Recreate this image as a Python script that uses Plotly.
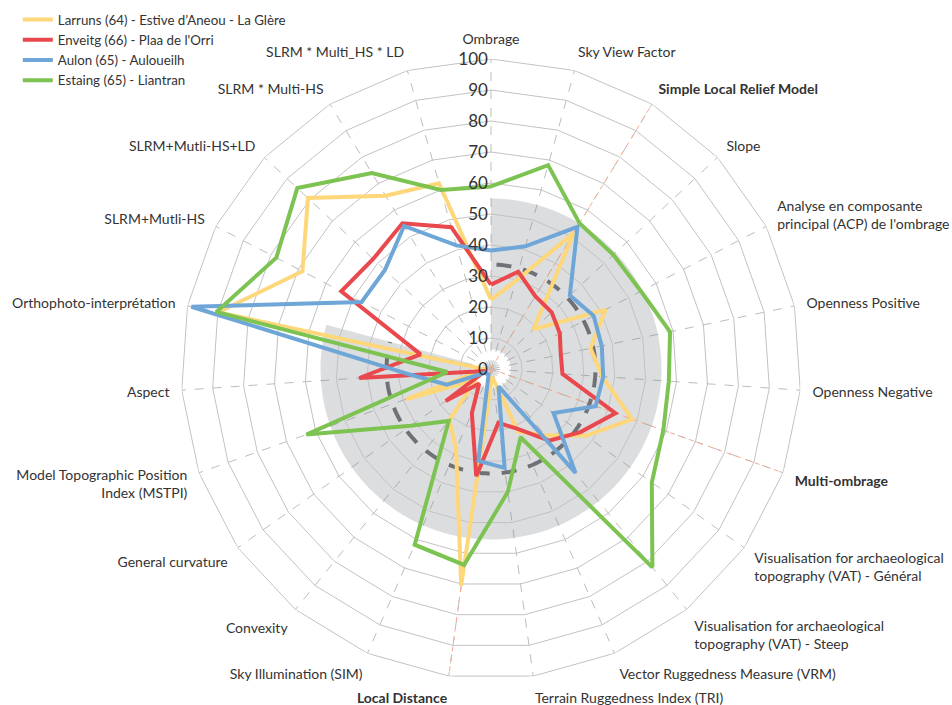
import numpy as np
import plotly.graph_objects as go

categories = [
    "Ombrage", "Sky View Factor", "<b>Simple Local Relief Model</b>", "Slope",
    "Analyse en composante<br>principal (ACP) de l'ombrage",
    "Openness Positive", "Openness Negative", "<b>Multi-ombrage</b>",
    "Visualisation for archaeological<br>topography (VAT) - Général",
    "Visualisation for archaeological<br>topography (VAT) - Steep",
    "Vector Ruggedness Measure (VRM)", "Terrain Ruggedness Index (TRI)",
    "<b>Local Distance</b>", "Sky Illumination (SIM)", "Convexity",
    "General curvature", "Model Topographic Position<br>Index (MSTPI)",
    "Aspect", "Orthophoto-interprétation", "SLRM+Mutli-HS",
    "SLRM+Mutli-HS+LD", "SLRM * Multi-HS", "SLRM * Multi_HS * LD",
]

larruns = [22.4, 29.5, 51.4, 18.8, 41.6, 32.8, 36, 48.3, 37.4, 27.6, 22, 2.5, 70.6, 28.3, 21.2, 6, 29.1, 2, 89.9, 68.5, 80.8, 65.4, 62.2]
enveitg = [27.2, 32.6, 27.5, 26.8, 25, 23, 23.1, 42.6, 35.3, 29.8, 21, 17.5, 34.9, 15.5, 6, 17.9, 2, 42.6, 23.2, 54.4, 52, 55, 47.5]
aulon = [38.2, 41.1, 53.7, 34.8, 37.3, 36.5, 36.3, 35.8, 24.7, 43.2, 6.1, 32.2, 29.9, 2, 2, 2, 15.1, 26.2, 98.7, 47, 46.8, 54, 41.4]
estaing = [58.9, 68.3, 55, 54, 54.5, 59, 57.5, 59, 63.5, 82.5, 24, 40, 63.8, 61.8, 21.6, 31.7, 63.2, 14.1, 90.5, 78, 85.5, 74, 60]

series_names = [
    "Larruns (64) - Estive d’Aneou - La Glère",
    "Enveitg (66) - Plaa de l'Orri",
    "Aulon (65) - Auloueilh",
    "Estaing (65) - Liantran",
]
series_colors = ["#FDD77A", "#E9484D", "#6EA6D8", "#7DC352"]

# highlighted methods (bold labels, salmon spokes)
highlighted = [2, 7, 12]

# shaded zone and reference level
zone_outer = 55
zone_inner = 6.4
zone_end_deg = 285
ref_level = 33.7
ref_start_deg = 3
ref_end_deg = 285

radial_ticks = list(range(0, 101, 10))

n = len(categories)
step = 360 / n
angles = [i * step for i in range(n)]

fig = go.Figure()

# grey sector (translucent so the spokes stay visible through it)
fig.add_trace(go.Barpolar(
    r=[zone_outer - zone_inner], base=[zone_inner],
    theta=[zone_end_deg / 2], width=[zone_end_deg],
    marker=dict(color="rgba(125,128,135,0.27)", line=dict(width=0)),
    showlegend=False, hoverinfo="skip",
))

# polygonal rings at every radial tick
for lvl in radial_ticks[1:]:
    fig.add_trace(go.Scatterpolar(
        r=[lvl] * (n + 1), theta=angles + [angles[0]], mode="lines",
        line=dict(color="#C2C2C2", width=1),
        showlegend=False, hoverinfo="skip",
    ))

# salmon spokes for highlighted methods
for i in highlighted:
    fig.add_trace(go.Scatterpolar(
        r=[0, radial_ticks[-1]], theta=[angles[i]] * 2, mode="lines",
        line=dict(color="#F6A98C", width=1, dash="5px,5px"),
        showlegend=False, hoverinfo="skip",
    ))

# dashed reference arc
arc_theta = np.linspace(ref_start_deg, ref_end_deg, 200)
fig.add_trace(go.Scatterpolar(
    r=[ref_level] * len(arc_theta), theta=arc_theta, mode="lines",
    line=dict(color="#6E7175", width=4, dash="15px,12px"),
    showlegend=False, hoverinfo="skip",
))

for name, vals, col in zip(series_names, [larruns, enveitg, aulon, estaing], series_colors):
    fig.add_trace(go.Scatterpolar(
        r=vals + [vals[0]], theta=angles + [angles[0]], mode="lines",
        line=dict(color=col, width=4), name=name,
    ))

fig.update_layout(
    width=952, height=705,
    margin=dict(l=0, r=0, t=0, b=0),
    paper_bgcolor="white",
    font=dict(family="Lato", size=14, color="#333333"),
    polar=dict(
        domain=dict(x=[0.1901, 0.8414], y=[0.0369, 0.9163]),
        bgcolor="rgba(0,0,0,0)",
        angularaxis=dict(
            rotation=90, direction="clockwise",
            tickmode="array", tickvals=angles, ticktext=categories,
            showline=False, ticks="outside", ticklen=9,
            tickcolor="rgba(0,0,0,0)",
            gridcolor="#BDBDBD", griddash="dash", gridwidth=1,
            tickfont=dict(size=14, color="#333333"),
        ),
        radialaxis=dict(
            range=[0, 100], tickvals=radial_ticks, angle=90,
            side="counterclockwise", tickangle=90,
            showline=False, showgrid=False, ticks="",
            tickfont=dict(size=17, color="#333333"),
        ),
    ),
    legend=dict(x=0.0187, y=0.994, xanchor="left", yanchor="top",
                font=dict(size=13.3, color="#333333"),
                tracegroupgap=0, bgcolor="rgba(0,0,0,0)"),
)

fig.write_html("out.html")
